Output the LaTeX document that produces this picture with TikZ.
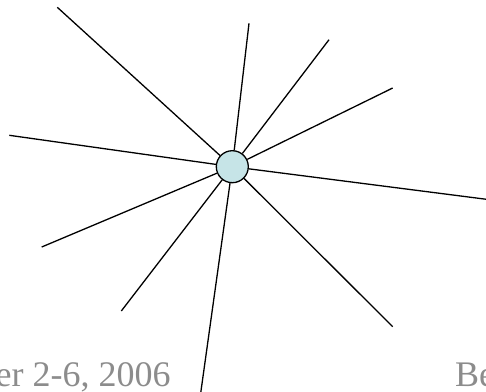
\documentclass[tikz,border=0pt]{standalone}
\usepackage{fontspec}
\setmainfont{Liberation Serif}
\definecolor{hubfill}{RGB}{198,228,231}
\definecolor{footgray}{RGB}{140,140,140}
\tikzset{
  ray/.style={line width=1.3pt},
  hub/.style={circle, draw, line width=1.3pt, fill=hubfill, minimum size=32pt, inner sep=0pt},
  foot/.style={text=footgray, font=\fontsize{36}{40}\selectfont, inner sep=0pt}
}
\begin{document}
\begin{tikzpicture}[x=1pt, y=-1pt]
        \useasboundingbox (0,0) rectangle (486,391);
        % Koncowki promieni
        \coordinate (a) at (57.3,7.3);
        \coordinate (b) at (249,23.3);
        \coordinate (c) at (329,39.7);
        \coordinate (d) at (392.7,88);
        \coordinate (e) at (488,199.5);
        \coordinate (f) at (392.7,326.7);
        \coordinate (g) at (200.7,393);
        \coordinate (h) at (121.3,311);
        \coordinate (i) at (41.7,247);
        \coordinate (j) at (9.3,135.3);

        % Wezel srodkowy
        \node[hub] (hub) at (232.3,166.7) {};

        % Promienie
        \foreach \p in {a,b,c,d,e,f,g,h,i,j}
          \draw[ray] (hub) -- (\p);

        % Stopka
        \node[foot, anchor=base east] (date) at (170.7,386.5) {er 2-6, 2006};
        \node[foot, anchor=base west] (place) at (455,386.5) {Be};
    \end{tikzpicture}
\end{document}
